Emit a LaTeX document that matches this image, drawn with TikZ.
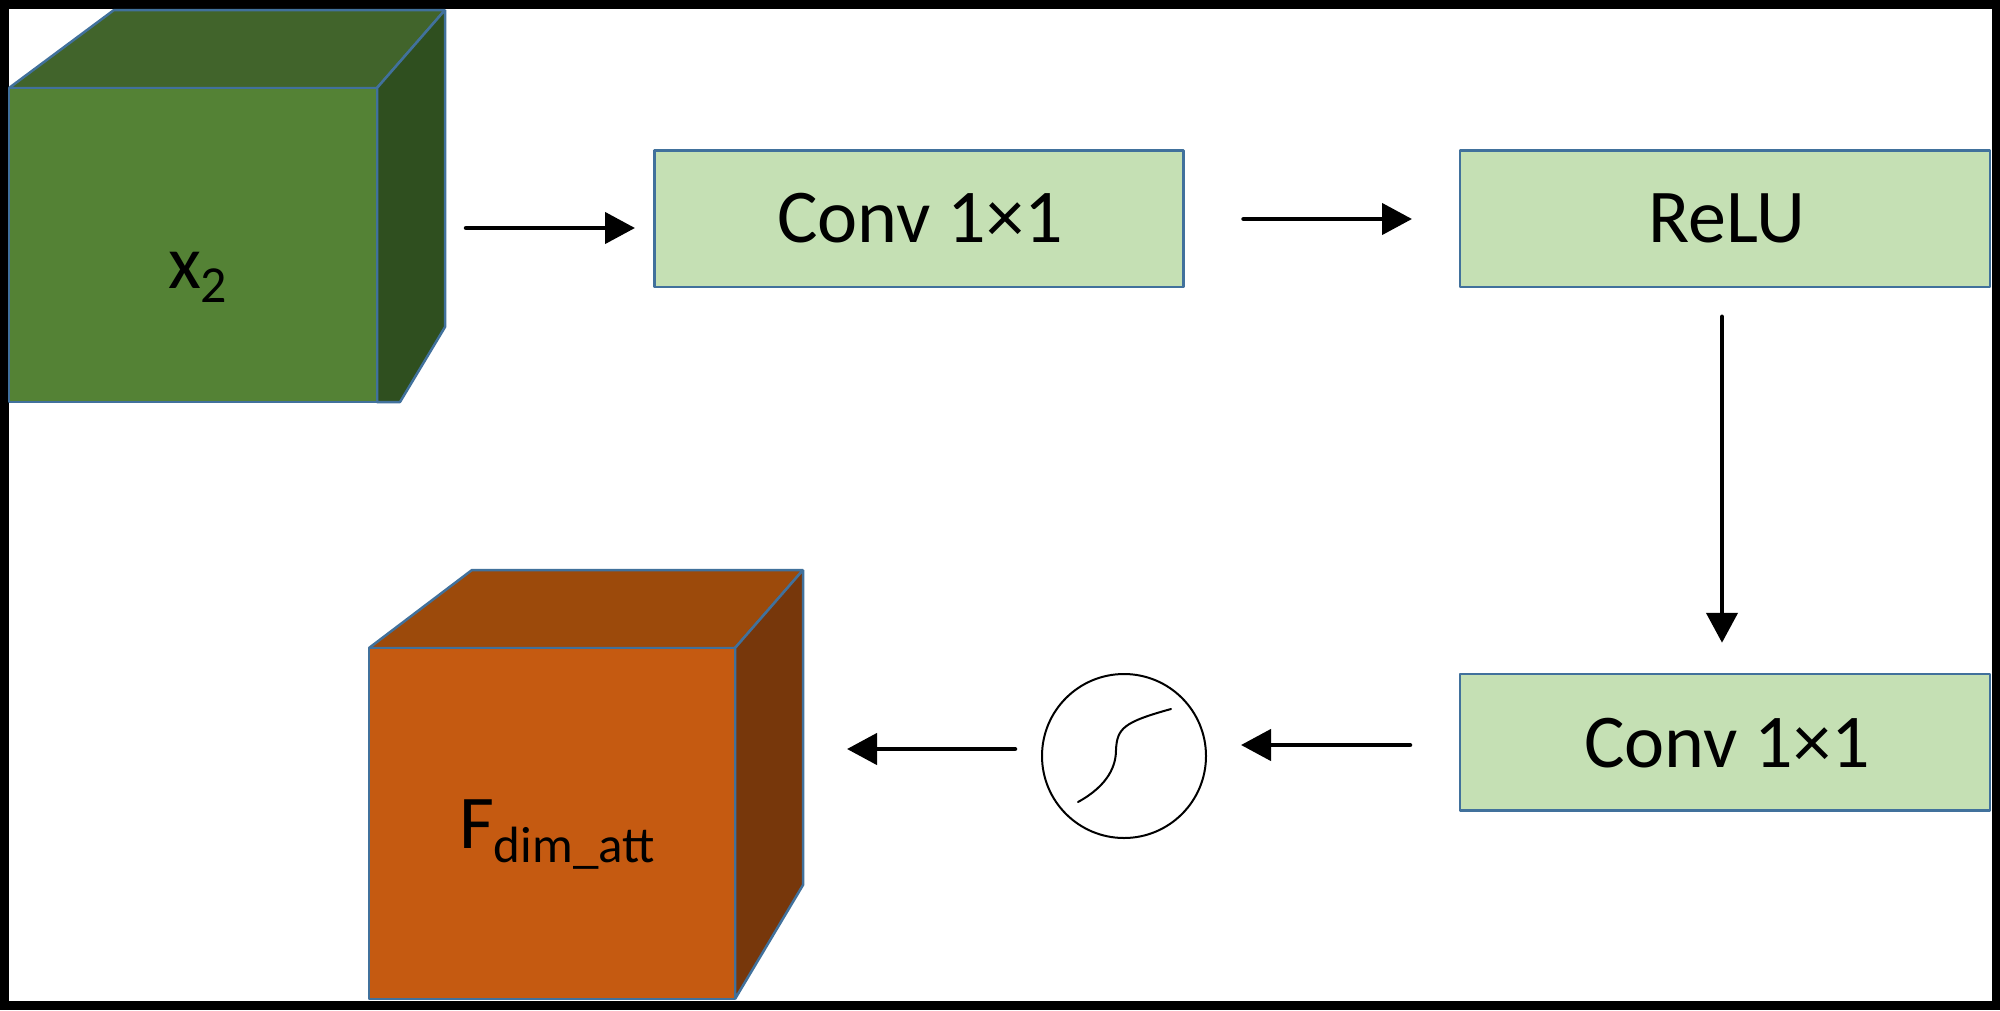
\documentclass[tikz,border=0pt]{standalone}
\usepackage{fontspec}
\setmainfont{Carlito}
\usetikzlibrary{arrows.meta}
\definecolor{edgeblue}{HTML}{41719C}
\definecolor{boxgreen}{HTML}{C5E0B4}
\definecolor{gfront}{HTML}{548235}
\definecolor{gtop}{HTML}{41642B}
\definecolor{gside}{HTML}{2F4F1F}
\definecolor{ofront}{HTML}{C55A11}
\definecolor{otop}{HTML}{9C4A0B}
\definecolor{oside}{HTML}{77370B}
\newcommand{\bigtext}{\fontsize{76}{80}\selectfont}
\newcommand{\subtext}[1]{\raisebox{-14pt}{\fontsize{52}{56}\selectfont #1}}
\tikzset{
  x=1pt,y=-1pt,
  facebox/.style={draw=edgeblue,line width=2.5pt,inner sep=0pt,outer sep=0pt,line join=bevel},
  opbox/.style={facebox,fill=boxgreen,minimum height=136.5pt,font=\bigtext,text=black},
  flow/.style={line width=4.5pt,line cap=round,-{Triangle[length=30pt,width=31pt]}},
  lbl/.style={inner sep=0pt,outer sep=0pt,font=\bigtext,text=black,anchor=base west},
}
\begin{document}
\begin{tikzpicture}
\useasboundingbox (0,0) rectangle (2000,1010);
% frame
\fill[black] (0,0) rectangle (2000,1010);
\fill[white] (8.5,8.5) rectangle (1992,1001);
% green cube
\filldraw[facebox,fill=gtop] (9,88) -- (114,10) -- (445,10) -- (377,88) -- cycle;
\filldraw[facebox,fill=gside] (377,88) -- (445,10) -- (445,327) -- (400,402) -- (377,402) -- cycle;
\node[facebox,fill=gfront,minimum width=368pt,minimum height=314pt] (cubeA) at (193,245) {};
\node[lbl] (labelA) at (168,288) {x\subtext{2}};
% orange cube
\filldraw[facebox,fill=otop] (369,648) -- (472,570) -- (803,570) -- (735,648) -- cycle;
\filldraw[facebox,fill=oside] (735,648) -- (803,570) -- (803,885) -- (735,999) -- cycle;
\node[facebox,fill=ofront,minimum width=366pt,minimum height=351pt] (cubeB) at (552,823.5) {};
\node[lbl] (labelB) at (459,848) {F\raisebox{-14pt}{\fontsize{51}{54}\selectfont dim\_att}};
% operation boxes
\node[opbox,minimum width=529pt] (convA) at (919,218.5) {};
\node[opbox,minimum width=530pt] (relu) at (1725,218.5) {};
\node[opbox,minimum width=530pt] (convB) at (1725,742) {};
\node[lbl,anchor=base] (convAtxt) at (920,242) {Conv 1×1};
\node[lbl,anchor=base] (relutxt) at (1727,242) {ReLU};
\node[lbl,anchor=base] (convBtxt) at (1727,767) {Conv 1×1};
% sigmoid
\node[draw=black,line width=2pt,fill=white,circle,minimum size=164pt,inner sep=0pt,outer sep=0pt] (sig) at (1124,756) {};
\draw[black,line width=2pt,line cap=round] (1078,802) .. controls (1109,785) and (1116,765) .. (1116,750)
  .. controls (1117,728) and (1124,722) .. (1171,709);
% connectors
\draw[flow] ([shift={(89,-17)}]cubeA.east) -- ([shift={(-19.5,9.5)}]convA.west);
\draw[flow] ([shift={(60,0.5)}]convA.east) -- ([shift={(-48,0.5)}]relu.west);
\draw[flow] ([shift={(-3,30)}]relu.south) -- ([shift={(-3,-31)}]convB.north);
\draw[flow] ([shift={(-50,3)}]convB.west) -- ([shift={(35,-11)}]sig.east);
\draw[flow] ([shift={(-27,-7)}]sig.west) -- ([shift={(112,-74.5)}]cubeB.east);
\end{tikzpicture}
\end{document}
